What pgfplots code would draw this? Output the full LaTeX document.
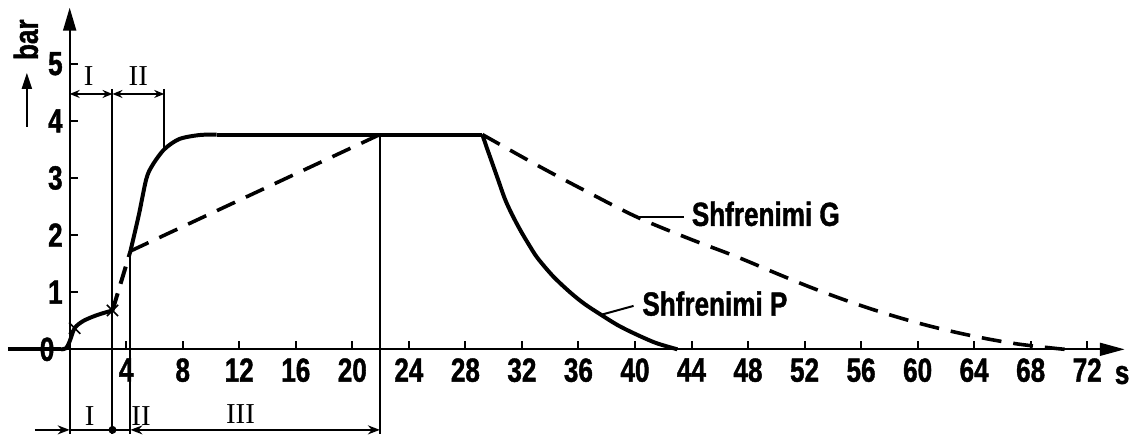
\documentclass[border=0pt]{standalone}
\usepackage{pgfplots}
\pgfplotsset{compat=1.18}
\usetikzlibrary{arrows.meta}
\usepackage{fontspec}
\setmainfont{Liberation Sans}[FakeStretch=0.78, BoldFeatures={FakeStretch=0.78, FakeBold=1.2}]
\newfontfamily\romanfont{Liberation Serif}
\newcommand\lab{\fontsize{16.8}{18}\selectfont\bfseries}
\newcommand\rom{\fontsize{14.5}{16}\selectfont\romanfont}
\begin{document}
\begin{tikzpicture}
\begin{axis}[
  x=7.1pt, y=28.7pt,
  axis lines=middle,
  xmin=-4.37, xmax=74.65, ymin=-1.48, ymax=5.98,
  axis line style={line width=1pt},
  x axis line style={-{Triangle[length=12.5pt,width=6.5pt]}},
  y axis line style={-{Triangle[length=11.5pt,width=6.5pt]}},
  xtick={4,8,...,72},
  xticklabels={4,8,12,16,20,24,28,32,36,40,44,48,52,56,60,64,68,72},
  ytick={1,2,3,4,5},
  yticklabels={1,2,3,4,5},
  tick align=inside,
  major tick length=4pt,
  tick style={line width=1pt, black},
  ticklabel style={font=\lab},
  xticklabel style={yshift=-1pt},
  clip=false,
]
% bounding box of the whole picture
\path (axis cs:-4.93,-1.48) rectangle (axis cs:75.07,6.115);

% Shfrenimi P (solid)
\addplot[line width=2pt] coordinates {(-4.37,0) (-0.6,0)};
\addplot[line width=2pt, smooth, tension=0.5] coordinates {
  (-0.6,0) (-0.25,0.02) (0,0.14) (0.35,0.37) (0.92,0.49) (1.62,0.57) (2.32,0.63) (3.03,0.68)};
\addplot[line width=2pt, dash pattern=on 9pt off 5pt] coordinates {(3.03,0.68) (4.30,1.72)};
\addplot[line width=2pt, smooth, tension=0.5] coordinates {
  (4.30,1.72) (4.9,2.36) (5.42,2.98) (5.85,3.22) (6.69,3.50) (7.75,3.68) (9.15,3.75) (10.4,3.76)};
\addplot[line width=2pt] coordinates {(10.4,3.76) (29.2,3.76)};
\addplot[line width=2pt, smooth, tension=0.5] coordinates {
  (29.2,3.76) (29.5,3.54) (29.8,3.33) (30.3,2.98) (30.8,2.63) (31.3,2.36) (31.9,2.08)
  (32.5,1.83) (33.1,1.60) (34.2,1.28) (35.4,1.00) (36.4,0.80) (37.5,0.62) (38.8,0.42)
  (40.1,0.26) (41.5,0.11) (43.0,0.0)};

% Shfrenimi G (dashed)
\addplot[line width=1.8pt, dash pattern=on 10pt off 6pt] coordinates {(4.30,1.72) (21.95,3.76)};
\addplot[line width=1.8pt, dash pattern=on 10pt off 6pt, smooth, tension=0.6] coordinates {
  (29.2,3.76) (33.1,3.22) (36.6,2.76) (40.1,2.32) (43.7,1.95) (47.2,1.62) (50,1.33) (52.8,1.05)
  (56.3,0.74) (59.9,0.47) (63.4,0.26) (66.9,0.10) (70.4,0.0)};

% cross marks
\addplot[only marks, mark=x, mark size=4pt, line width=0.8pt] coordinates {(0.35,0.37) (3.03,0.68)};

% leaders and labels
\draw[line width=1pt] (axis cs:40.14,2.32) -- (axis cs:43.45,2.32);
\node[anchor=west, inner sep=0pt, font=\lab] at (axis cs:44.0,2.37) {Shfrenimi G};
\draw[line width=1pt] (axis cs:37.54,0.60) -- (axis cs:39.9,0.76);
\node[anchor=west, inner sep=0pt, font=\lab] at (axis cs:40.5,0.80) {Shfrenimi P};

% zero label, unit labels
\node[font=\lab] at (axis cs:-1.6,0) {0};
\node[font=\lab] at (axis cs:74.47,-0.45) {s};
\node[font=\lab, rotate=90] at (axis cs:-3.10,5.42) {bar};
\draw[line width=1pt, -{Triangle[length=8pt,width=5pt]}] (axis cs:-3.03,3.90) -- (axis cs:-3.03,4.84);

% phase annotations (top)
\draw[line width=1pt] (axis cs:3.03,4.56) -- (axis cs:3.03,-1.48);
\draw[line width=1pt] (axis cs:6.69,4.56) -- (axis cs:6.69,3.50);
\draw[line width=1pt, {Stealth[length=5pt,width=4pt]}-{Stealth[length=5pt,width=4pt]}] (axis cs:0,4.47) -- (axis cs:3.03,4.47);
\draw[line width=1pt, {Stealth[length=5pt,width=4pt]}-{Stealth[length=5pt,width=4pt]}] (axis cs:3.03,4.47) -- (axis cs:6.69,4.47);
\node[font=\rom] at (axis cs:1.34,4.79) {I};
\node[font=\rom] at (axis cs:4.86,4.79) {II};

% phase annotations (bottom)
\draw[line width=1pt] (axis cs:4.30,1.72) -- (axis cs:4.30,-1.48);
\draw[line width=1pt] (axis cs:21.95,3.76) -- (axis cs:21.95,-1.48);
\draw[line width=1pt, -{Stealth[length=6pt,width=4.5pt]}] (axis cs:-2.46,-1.41) -- (axis cs:0,-1.41);
\draw[line width=1pt] (axis cs:0,-1.41) -- (axis cs:4.30,-1.41);
\fill (axis cs:3.03,-1.41) circle[radius=2pt];
\draw[line width=1pt, {Stealth[length=6pt,width=4.5pt]}-{Stealth[length=6pt,width=4.5pt]}] (axis cs:4.30,-1.41) -- (axis cs:21.95,-1.41);
\node[font=\rom] at (axis cs:1.41,-1.17) {I};
\node[font=\rom] at (axis cs:5.05,-1.17) {II};
\node[font=\rom] at (axis cs:12.09,-1.14) {III};
\end{axis}
\end{tikzpicture}
\end{document}
